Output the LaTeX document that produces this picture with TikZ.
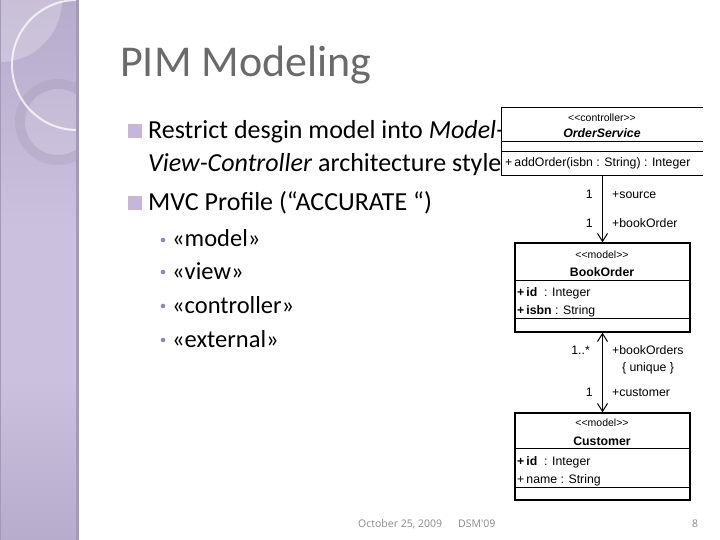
\documentclass[tikz,border=0pt]{standalone}
\usepackage{fontspec}
\setmainfont{Carlito}
\newfontfamily\umlfont{Liberation Sans}
\newfontfamily\footfont{Open Sans}
\usetikzlibrary{arrows.meta}

\definecolor{bandlav}{HTML}{CBC0DD}
\definecolor{banddark}{HTML}{B7ACCB}
\definecolor{bandedge}{HTML}{A39AB5}
\definecolor{bulletlav}{HTML}{C6B6DA}
\definecolor{dotlav}{HTML}{9485BD}
\definecolor{titlegray}{HTML}{6A6A6A}
\definecolor{footgray}{HTML}{8A8A8A}

\tikzset{
  bodytext/.style={anchor=base west,inner sep=0pt,font=\fontsize{26}{30}\selectfont},
  subtext/.style={anchor=base west,inner sep=0pt,font=\fontsize{24.5}{28}\selectfont},
  sqbullet/.style={fill=bulletlav},
  umlbox/.style={fill=white,inner sep=0pt,minimum width=175pt},
  umltext/.style={inner sep=0pt,font=\umlfont\fontsize{12.3}{14}\selectfont},
  stereo/.style={inner sep=0pt,font=\umlfont\fontsize{10.5}{12}\selectfont},
  rolelabel/.style={anchor=base west,inner sep=0pt,font=\umlfont\fontsize{12.3}{14}\selectfont},
  multlabel/.style={anchor=base east,inner sep=0pt,font=\umlfont\fontsize{12.3}{14}\selectfont},
  assoc/.style={line width=1pt,-{Straight Barb[length=8pt,width=10pt]}},
  footer/.style={anchor=base west,inner sep=0pt,text=footgray,font=\footfont\fontsize{10.5}{12}\selectfont}
}

\begin{document}
\begin{tikzpicture}[x=1pt,y=-1pt]
    \useasboundingbox (0,0) rectangle (720,540);
    \fill[white] (0,0) rectangle (720,540);

    % Side band
    \fill[bandlav] (0,0) rectangle (78,540);
    \shade[top color=banddark,bottom color=bandlav] (0,0) rectangle (78,230);
    \shade[top color=bandlav,bottom color=banddark] (0,380) rectangle (78,540);
    \begin{scope}
        \clip (0,0) rectangle (77,540);
        \fill[white,opacity=0.25] (0,0) circle (62);
        \fill[banddark!80!black,opacity=0.18,even odd rule] (58,122) circle (43) (58,122) circle (33);
        \fill[white,opacity=0.1] (58,122) circle (33);
        \draw[white,line width=2pt,opacity=0.75] (77,65) circle (65);
    \end{scope}
    \fill[bandedge] (76,0) rectangle (79,540);
    \draw[bandedge] (0.5,0) -- (0.5,540);

    % Title
    \node[anchor=base west,inner sep=0pt,text=titlegray,font=\fontsize{44}{50}\selectfont] (title) at (120,77) {PIM Modeling};

    % Bullets
    \fill[sqbullet] (128,124) rectangle (142,138);
    \fill[sqbullet] (128,196) rectangle (142,210);
    \node[bodytext] (line1) at (148,139) {Restrict desgin model into \textit{Model-}};
    \node[bodytext] (line2) at (148,172) {\textit{View-Controller} architecture style};
    \node[bodytext] (line3) at (148,211) {MVC Profile (“ACCURATE “)};
    \foreach \y/\txt in {247/model,279/view,313/controller,347/external} {
        \fill[dotlav] (163,\y-7) circle (2.3);
        \node[subtext] at (172,\y) {«\txt»};
    }

    % OrderService class (cut at the right)
    \node[umlbox,minimum width=201pt,minimum height=67pt] (ordersvc) at (602.5,141.5) {};
    \draw[line width=1.3pt] (ordersvc.north east) -- (ordersvc.north west) -- (ordersvc.south west) -- (ordersvc.south east);
    \draw[line width=1pt] (502,142) -- (703,142);
    \draw[line width=1pt] (502,152) -- (703,152);
    \node[stereo] at (602,118) {<<controller>>};
    \node[umltext,font=\umlfont\bfseries\itshape\fontsize{12.3}{14}\selectfont] at (602,133) {OrderService};
    \node[umltext,anchor=base west] at (505,167) {+\,addOrder(isbn : String) : Integer};

    % BookOrder class
    \node[umlbox,draw,line width=1.3pt,minimum height=89pt] (bookorder) at (602.5,287.5) {};
    \draw[line width=1pt] (515,280) -- (690,280);
    \draw[line width=1pt] (515,318) -- (690,318);
    \node[stereo] at (602,255) {<<model>>};
    \node[umltext,font=\umlfont\bfseries\fontsize{12.3}{14}\selectfont] at (602,272) {BookOrder};
    \node[umltext,anchor=base west] at (517,296) {\textbf{+\,id} \ : Integer};
    \node[umltext,anchor=base west] at (517,314) {\textbf{+\,isbn} : String};

    % Customer class
    \node[umlbox,draw,line width=1.3pt,minimum height=87pt] (customer) at (602.5,456.5) {};
    \draw[line width=1pt] (515,448) -- (690,448);
    \draw[line width=1pt] (515,487) -- (690,487);
    \node[stereo] at (602,423) {<<model>>};
    \node[umltext,font=\umlfont\bfseries\fontsize{12.3}{14}\selectfont] at (602,441) {Customer};
    \node[umltext,anchor=base west] at (517,465) {\textbf{+\,id} \ : Integer};
    \node[umltext,anchor=base west] at (517,483) {+\,name : String};

    % Associations
    \draw[assoc] (ordersvc.south) -- (bookorder.north);
    \draw[assoc,{Straight Barb[length=8pt,width=10pt]}-{Straight Barb[length=8pt,width=10pt]}] (customer.north) -- (bookorder.south);
    \node[multlabel] at (593,199) {1};
    \node[rolelabel] at (612,199) {+source};
    \node[multlabel] at (593,228) {1};
    \node[rolelabel] at (612,228) {+bookOrder};
    \node[multlabel] at (590,354) {1..*};
    \node[rolelabel] at (612,354) {+bookOrders};
    \node[umltext,anchor=base] at (648,371) {\{ unique \}};
    \node[multlabel] at (593,396) {1};
    \node[rolelabel] at (612,396) {+customer};

    % Footer
    \node[footer] at (358,527) {October 25, 2009};
    \node[footer] at (458,527) {DSM'09};
    \node[footer] at (692,527) {8};
\end{tikzpicture}
\end{document}
